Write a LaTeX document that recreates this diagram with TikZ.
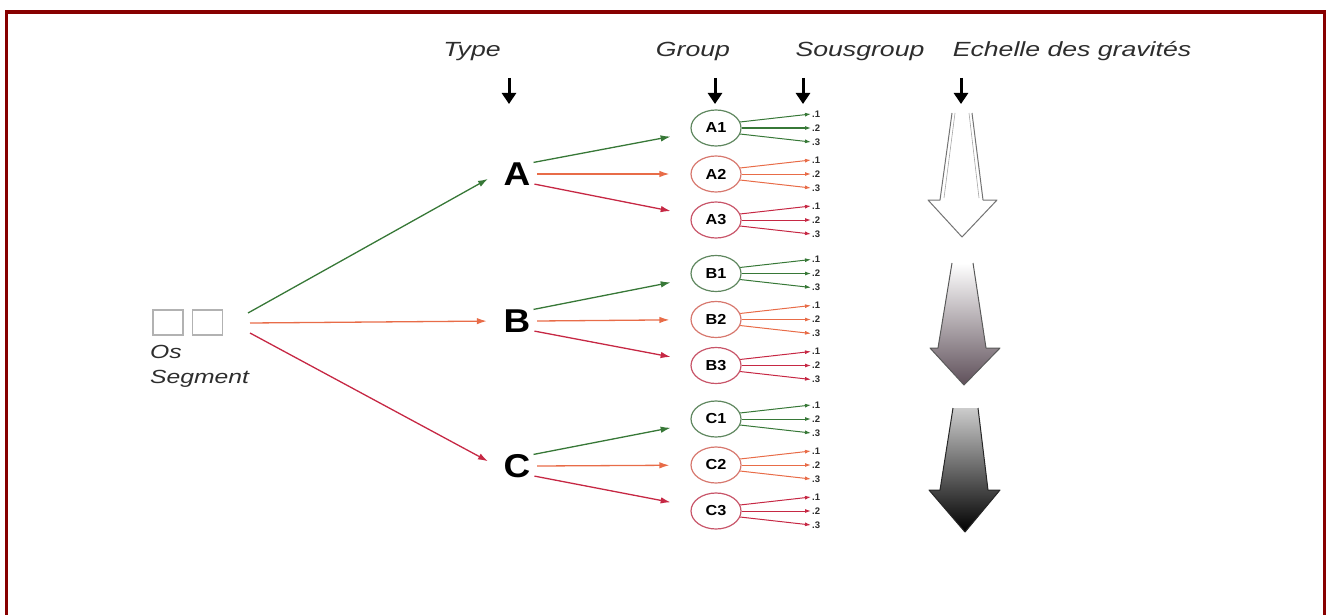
\documentclass[tikz,border=0pt]{standalone}
\usepackage{fontspec}
\setmainfont{Liberation Sans}
\newfontfamily\widefont[FakeStretch=1.3]{Liberation Sans}
\newfontfamily\midfont[FakeStretch=1.12]{Liberation Sans}
\usetikzlibrary{arrows.meta,shapes.geometric}
\definecolor{framered}{RGB}{135,0,0}
\definecolor{cgreen}{RGB}{55,120,55}
\definecolor{corange}{RGB}{232,108,72}
\definecolor{cred}{RGB}{198,40,68}
\definecolor{rgreen}{RGB}{95,135,95}
\definecolor{rorange}{RGB}{215,120,110}
\definecolor{rred}{RGB}{200,85,105}
\definecolor{txtgrey}{RGB}{45,45,45}
\begin{document}
\begin{tikzpicture}[x=1pt,y=-1pt,
  hdr/.style={font=\widefont\itshape\fontsize{20.5}{22}\selectfont, text=txtgrey, anchor=base, inner sep=0pt},
  hdrarrow/.style={line width=3pt, -{Triangle[length=11pt,width=14pt]}},
  letter/.style={circle, minimum size=40pt, inner sep=0pt, font=\midfont\bfseries\fontsize{33}{33}\selectfont},
  grp/.style={ellipse, draw, line width=1.2pt, minimum width=50pt, minimum height=36pt, inner sep=0pt, font=\midfont\bfseries\fontsize{14.5}{14.5}\selectfont},
  sublab/.style={anchor=west, inner sep=1pt, font=\bfseries\fontsize{9.5}{9.5}\selectfont, text=txtgrey},
  conn/.style={line width=1.3pt, -{Latex[length=10pt,width=6.5pt]}},
  subconn/.style={line width=1pt, -{Latex[length=6pt,width=4pt]}},
  osbox/.style={draw=black!30, line width=1.3pt, minimum width=30pt, minimum height=25pt, inner sep=0pt},
  bigout/.style={draw=black!55, line width=1pt, line join=round}
]
\useasboundingbox (0,0) rectangle (1332,615);
% frame
\draw[framered, line width=3.5pt] (6.3,640) -- (6.3,12) -- (1324.5,12) -- (1324.5,640);

% headers
\node[hdr] (hType) at (472,57) {Type};
\node[hdr] (hGroup) at (693,57) {Group};
\node[hdr] (hSous) at (860,57) {Sousgroup};
\node[hdr] (hEch) at (1072,57) {Echelle des gravités};
\coordinate (t1a) at (509,78); \coordinate (t1b) at (509,104);
\coordinate (t2a) at (715,78); \coordinate (t2b) at (715,104);
\coordinate (t3a) at (803,78); \coordinate (t3b) at (803,104);
\coordinate (t4a) at (961,78); \coordinate (t4b) at (961,104);
\draw[hdrarrow] (t1a) -- (t1b);
\draw[hdrarrow] (t2a) -- (t2b);
\draw[hdrarrow] (t3a) -- (t3b);
\draw[hdrarrow] (t4a) -- (t4b);

% os segment
\node[osbox] (os1) at (168,322.5) {};
\node[osbox] (os2) at (207.5,322.5) {};
\node[anchor=north west, align=left, inner sep=0pt, font=\widefont\itshape\fontsize{19}{25}\selectfont, text=txtgrey] (oslab) at (150,345) {Os\\Segment};
\coordinate (osA) at (248,313);
\coordinate (osB) at (250,323);
\coordinate (osC) at (250,333);

% types
\node[letter] (A) at (517,174) {A};
\node[letter] (B) at (517,321) {B};
\node[letter] (C) at (517,466) {C};
\draw[conn, cgreen, shorten >=10pt] (osA) -- (A.west);
\draw[conn, corange, shorten >=10pt] (osB) -- (B.west);
\draw[conn, cred, shorten >=10pt] (osC) -- (C.west);

% groups
\foreach \T/\y in {A/128,B/273.5,C/419}{
  \node[grp, draw=rgreen] (\T1) at (716,\y) {\T1};
  \node[grp, draw=rorange] (\T2) at (716,\y+46) {\T2};
  \node[grp, draw=rred] (\T3) at (716,\y+92) {\T3};
  \draw[conn, cgreen, shorten >=21pt] (\T.35) -- (\T1);
  \draw[conn, corange, shorten >=21pt] (\T.east) -- (\T2);
  \draw[conn, cred, shorten >=21pt] (\T.-30) -- (\T3);
  \foreach \k/\c in {1/cgreen,2/corange,3/cred}{
    \node[sublab] (\T\k s1) at (811,\y+46*\k-46-14) {.1};
    \node[sublab] (\T\k s2) at (811,\y+46*\k-46) {.2};
    \node[sublab] (\T\k s3) at (811,\y+46*\k-46+14) {.3};
    \draw[subconn, \c] (\T\k.14) -- (\T\k s1.west);
    \draw[subconn, \c] (\T\k.east) -- (\T\k s2.west);
    \draw[subconn, \c] (\T\k.-14) -- (\T\k s3.west);
  }
}

% severity arrows
\fill[white] (952,113) -- (940,200) -- (928,200) -- (962,237) -- (997,200) -- (983,200) -- (972,113) -- cycle;
\draw[bigout] (952,113) -- (940,200) -- (928,200) -- (962,237) -- (997,200) -- (983,200) -- (972,113);
\draw[black!35, line width=0.6pt] (955,113) -- (944,198);
\draw[black!35, line width=0.6pt] (969,113) -- (979,198);

\shade[top color=white, middle color=black!12, bottom color={rgb,255:red,95;green,80;blue,90}]
  (952,263) -- (938,348) -- (930,348) -- (964,385) -- (1000,348) -- (986,348) -- (973,263) -- cycle;
\draw[bigout, draw=black!65] (952,263) -- (938,348) -- (930,348) -- (964,385) -- (1000,348) -- (986,348) -- (973,263);

\shade[top color=black!20, middle color=black!85, bottom color=black]
  (953,408) -- (940,490) -- (929,490) -- (965,532) -- (1000,490) -- (988,490) -- (978,408) -- cycle;
\draw[bigout, draw=black!85] (953,408) -- (940,490) -- (929,490) -- (965,532) -- (1000,490) -- (988,490) -- (978,408);
\end{tikzpicture}
\end{document}
